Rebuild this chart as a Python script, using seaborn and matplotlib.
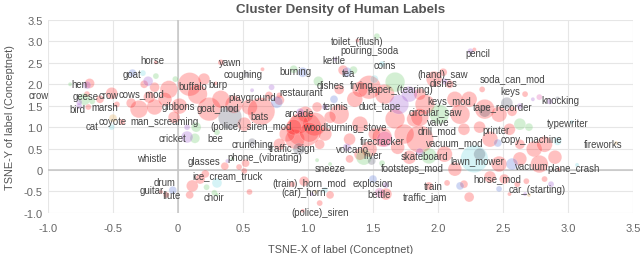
import pandas as pd
import matplotlib
matplotlib.use("Agg")
import matplotlib.pyplot as plt
import matplotlib.ticker as mticker
import seaborn as sns

# bubble clusters per label group (x, y, density)
red_x = [-0.68, -0.26, -0.18, -0.17, -0.70, -0.51, -0.60, -0.47, -0.69, -0.43, -0.30, -0.18, -0.07, -0.10, 0.01,
         -0.22, -0.36, -0.03, 0.09, 0.15, 0.20, 0.24, 0.33, 0.43, 0.55, 0.64, 0.51, 0.33, 0.29, 0.52,
         0.51, 0.17, 0.11, 0.09, 0.21, 0.36, 0.47, -0.09, -0.13, 0.70, 0.78, 0.78, 0.98, 0.97, 0.90,
         0.84, 1.05, 0.78, 1.13, 1.24, 1.36, 1.40, 1.17, 1.51, 1.32, 1.09, 1.07, 1.27, 1.38, 1.47,
         1.59, 1.40, 1.86, 1.24, 1.82, 1.67, 1.74, 1.57, 1.47, 1.40, 1.32, 1.69, 1.86, 1.78, 1.60,
         0.97, 0.88, 1.17, 1.09, 0.96, 1.93, 2.07, 2.04, 1.97, 2.09, 2.28, 2.34, 2.67, 1.90, 2.13,
         1.86, 2.17, 2.24, 2.36, 2.47, 2.57, 2.20, 2.32, 2.55, 2.40, 2.74, 2.82, 2.63, 2.05, 2.13,
         2.47, 2.63, 2.78, 2.90, 2.20, 2.24, 2.40, 2.51, 2.61, 2.55, 2.68, 2.82, 2.93, 0.55, 0.65,
         0.93, 1.01, 0.89]
red_y = [2.02, 2.00, 1.93, 2.51, 1.77, 1.79, 1.65, 1.53, 1.47, 1.12, 1.42, 1.47, 1.88, 1.65, 1.49,
         1.70, 1.56, 1.23, 2.00, 1.77, 2.12, 1.42, 1.65, 1.53, 1.47, 1.37, 1.07, 2.51, 2.02, 0.16,
         -0.02, -0.21, -0.37, -0.58, -0.09, 0.09, 0.07, -0.58, -0.51, 1.74, 1.74, 1.63, 1.30, 0.95, 0.72,
         0.84, 1.07, 0.60, 0.84, 1.30, 1.65, 1.07, 1.23, 0.84, 0.72, 0.60, 1.47, 2.33, 3.02, 1.93,
         1.77, 1.88, 1.77, 1.88, 1.19, 1.19, 0.84, 0.77, 0.49, 0.37, 0.26, 0.53, 0.72, 0.30, -0.56,
         -0.26, -0.33, -0.58, -0.77, -0.95, -0.37, -0.30, 2.28, 2.12, 2.00, 2.81, 1.88, 1.77, 1.53, 1.65,
         1.23, 1.30, 1.65, 1.42, 1.30, 1.37, 0.95, 1.00, 0.95, 0.72, 0.49, 0.60, 0.60, 0.37, 0.02,
         0.14, 0.26, 0.14, 0.30, -0.33, -0.63, -0.16, -0.21, -0.33, -0.56, -0.26, -0.21, 0.02, -0.51, 2.35,
         1.07, 0.88, 1.00]
red_n = [25, 16, 25, 4, 9, 36, 16, 9, 9, 9, 81, 64, 81, 49, 64,
         36, 25, 36, 144, 100, 36, 144, 81, 81, 64, 196, 49, 9, 4, 16,
         9, 25, 36, 16, 16, 16, 9, 9, 4, 16, 9, 25, 64, 324, 100,
         64, 144, 36, 49, 100, 64, 64, 36, 36, 36, 25, 25, 25, 4, 144,
         100, 64, 36, 25, 64, 100, 100, 100, 64, 36, 16, 49, 196, 49, 36,
         25, 9, 16, 9, 4, 16, 9, 16, 64, 16, 4, 9, 9, 100, 64,
         81, 100, 64, 100, 64, 25, 36, 36, 36, 64, 64, 64, 25, 64, 49,
         64, 49, 81, 49, 16, 25, 36, 25, 9, 4, 9, 9, 4, 9, 4,
         100, 100, 64]

green_x = [-0.83, -0.17, -0.72, -0.66, 0.14, 0.13, 0.30, 0.42, 0.22, 0.28, 0.30, 0.89, 1.08, 1.35, 1.53,
           1.67, 1.43, 1.57, 1.07, 1.17, 1.93, 2.01, 2.63, 2.70, -0.02]
green_y = [2.00, 2.19, 1.65, 1.60, 1.00, 0.74, 0.88, 0.26, -0.40, -0.53, -0.58, 2.35, 2.07, 2.33, 3.12,
           2.05, 0.30, 0.16, 0.23, 0.14, 0.33, 1.30, 1.07, 1.00, 2.12]
green_n = [4, 9, 36, 9, 25, 25, 9, 4, 9, 9, 4, 16, 25, 16, 9,
           100, 64, 9, 4, 4, 64, 100, 36, 16, 9]

blue_x = [-0.35, -0.04, 0.96, 0.76, 1.20, 1.30, 2.46, 2.57, 2.17, 2.47, 1.50]
blue_y = [2.26, -0.47, 2.28, 1.58, 1.65, 2.28, 0.63, 0.14, -0.37, -0.44, -0.21]
blue_n = [16, 16, 25, 36, 16, 25, 16, 36, 16, 9, 16]

purple_x = [-0.70, -0.23, -0.76, -0.76, 0.07, 0.07, 0.38, 0.57, 0.72, 0.94, 1.13, 1.21, 1.78, 1.70, 1.30,
            1.86, 1.60, 1.03, 2.05, 2.25, 2.73, 2.86, 2.63, 2.67, 2.87]
purple_y = [1.98, 2.07, 1.49, 1.58, 1.00, 0.77, 0.21, 1.86, 1.93, 1.35, 1.47, 2.58, 1.77, 1.53, 0.53,
            0.42, -0.35, -0.56, 2.07, 2.77, 1.65, 1.60, 1.49, -0.56, -0.33]
purple_n = [16, 25, 9, 9, 9, 36, 4, 4, 9, 16, 9, 4, 64, 100, 16,
            16, 9, 4, 9, 9, 4, 9, 9, 4, 9]

teal_x = [-0.27, -0.51, 0.30, 1.57, 1.51, 1.13, 2.28, 2.92, 3.03, 3.07]
teal_y = [2.26, 1.00, -0.30, 2.47, 2.12, -0.47, 0.26, 0.67, 1.12, 0.12]
teal_n = [9, 9, 25, 9, 16, 9, 196, 16, 4, 4]

orange_x = [-0.50, 1.06, 2.70, 3.37]
orange_y = [1.21, -0.51, -0.58, 0.63]
orange_n = [16, 4, 4, 4]

gray_x = [-1.09, 0.53, 0.40, 0.57, 0.93, 1.49, 2.53, 2.36, 2.32, 2.92]
gray_y = [1.88, 2.23, 1.23, 0.65, 0.49, 0.21, 1.56, 1.37, 0.37, 1.67]
gray_n = [4, 9, 144, 16, 36, 16, 36, 36, 36, 4]

pink_x = [1.59, 1.55, 2.78]
pink_y = [0.72, -0.53, 1.70]
pink_n = [64, 25, 9]

# human labels
label_text = ["crow", "hen", "goat", "horse", "geese", "crow", "cows_mod", "bird", "marsh", "gibbons",
              "coyote", "cat", "man_screaming", "cricket", "whistle", "drum", "guitar", "flute", "yawn",
              "coughing", "buffalo", "burp", "playground", "goat_mod", "bats", "(police)_siren_mod", "bee",
              "crunching", "glasses", "phone_(vibrating)", "ice_cream_truck", "choir", "traffic_sign",
              "burning", "restaurant", "arcade", "woodburning_stove", "tennis", "dishes", "frying", "tea",
              "kettle", "toilet_(flush)", "pouring_soda", "coins", "paper_(tearing)", "duct_tape",
              "(hand)_saw", "dishes", "pencil", "soda_can_mod", "keys", "knocking", "keys_mod",
              "tape_recorder", "circular_saw", "valve", "drill_mod", "printer", "copy_machine",
              "typewriter", "fireworks", "vacuum_mod", "firecracker", "volcano", "river", "skateboard",
              "lawn_mower", "vacuum", "plane_crash", "sneeze", "footsteps_mod", "horse_mod",
              "car_(starting)", "train", "traffic_jam", "explosion", "bettle", "(train)_horn_mod",
              "(car)_horn", "(police)_siren"]
label_x = [-1.07, -0.76, -0.35, -0.20, -0.71, -0.53, -0.28, -0.77, -0.56, 0.00,
           -0.50, -0.66, -0.10, -0.04, -0.20, -0.10, -0.20, -0.05, 0.40,
           0.50, 0.11, 0.31, 0.57, 0.31, 0.63, 0.56, 0.29,
           0.57, 0.20, 0.67, 0.38, 0.28, 0.88,
           0.90, 0.95, 0.93, 1.28, 1.21, 1.17, 1.41, 1.31,
           1.20, 1.38, 1.47, 1.59, 1.71, 1.55,
           2.04, 2.04, 2.31, 2.57, 2.56, 2.94, 2.09,
           2.50, 1.98, 2.00, 1.99, 2.45, 2.72,
           3.00, 3.27, 2.13, 1.57, 1.34, 1.50, 1.90,
           2.30, 2.72, 3.04, 1.17, 1.80, 2.46,
           2.76, 1.96, 1.90, 1.50, 1.55, 1.01,
           0.97, 1.09]
label_y = [1.74, 2.00, 2.23, 2.56, 1.72, 1.74, 1.79, 1.42, 1.47, 1.49,
           1.14, 1.02, 1.14, 0.74, 0.28, -0.28, -0.47, -0.58, 2.53,
           2.23, 1.95, 2.00, 1.70, 1.44, 1.25, 1.03, 0.74,
           0.60, 0.21, 0.30, -0.12, -0.63, 0.51,
           2.30, 1.82, 1.33, 1.00, 1.49, 1.99, 1.98, 2.26,
           2.56, 3.00, 2.81, 2.44, 1.88, 1.49,
           2.24, 2.04, 2.72, 2.14, 1.84, 1.63, 1.60,
           1.47, 1.37, 1.13, 0.93, 0.93, 0.72,
           1.09, 0.60, 0.65, 0.67, 0.49, 0.35, 0.33,
           0.23, 0.10, 0.04, 0.05, 0.05, -0.19,
           -0.44, -0.37, -0.63, -0.30, -0.56, -0.30,
           -0.51, -0.98]

groups = {"red": (red_x, red_y, red_n), "green": (green_x, green_y, green_n),
          "blue": (blue_x, blue_y, blue_n), "purple": (purple_x, purple_y, purple_n),
          "teal": (teal_x, teal_y, teal_n), "orange": (orange_x, orange_y, orange_n),
          "gray": (gray_x, gray_y, gray_n), "pink": (pink_x, pink_y, pink_n)}
frames = []
for name, (gx, gy, gn) in groups.items():
    frames.append(pd.DataFrame({"x": gx, "y": gy, "density": gn, "group": name}))
df = pd.concat(frames, ignore_index=True)

colors = {"red": "#ff1f1f", "green": "#63c963", "blue": "#4f6fd6", "purple": "#9a4fcf",
          "teal": "#68d4e0", "orange": "#e0a446", "gray": "#4f5266", "pink": "#e04aa8"}

sns.set_style("whitegrid")
plt.rcParams["font.family"] = ["Liberation Sans", "DejaVu Sans"]

fig, ax = plt.subplots(figsize=(6.4, 2.55), dpi=100)
fig.subplots_adjust(left=0.075, right=0.989, bottom=0.161, top=0.918)

sns.scatterplot(data=df, x="x", y="y", hue="group", size="density", palette=colors,
                sizes=(8, 640), size_norm=(4, 324), alpha=0.28, linewidth=0.4,
                legend=False, ax=ax, zorder=3)

for t, lx, ly in zip(label_text, label_x, label_y):
    ax.text(lx, ly, t, fontsize=6.9, color="#444444", ha="center", va="center",
            zorder=5, clip_on=False)

ax.set_xlim(-1.0, 3.5)
ax.set_ylim(-1.0, 3.5)
ax.xaxis.set_major_locator(mticker.MultipleLocator(0.5))
ax.yaxis.set_major_locator(mticker.MultipleLocator(0.5))
fmt = mticker.FuncFormatter(lambda v, p: "0" if abs(v) < 1e-9 else f"{v:.1f}")
ax.xaxis.set_major_formatter(fmt)
ax.yaxis.set_major_formatter(fmt)
ax.grid(True, color="#e6e6e6", linewidth=0.8, zorder=0)
ax.axvline(0, color="#c4c4c4", linewidth=1.1, zorder=1)
ax.axhline(0, color="#c4c4c4", linewidth=1.1, zorder=1)
for s in ax.spines.values():
    s.set_visible(False)
ax.tick_params(axis="both", length=0, labelsize=8, labelcolor="#666666")
ax.tick_params(axis="x", pad=7)
ax.tick_params(axis="y", pad=4)

ax.set_title("Cluster Density of Human Labels", fontsize=9.6, fontweight="bold", color="#555555", pad=6)
ax.set_xlabel("TSNE-X of label (Conceptnet)", fontsize=7.8, color="#555555", labelpad=8)
ax.set_ylabel("TSNE-Y of label (Conceptnet)", fontsize=7.8, color="#555555", labelpad=6)

plt.savefig("out.png", dpi=100)
